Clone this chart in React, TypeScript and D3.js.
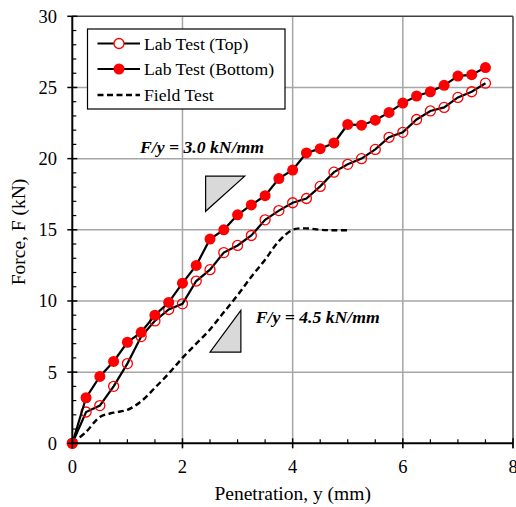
import React from "react";
import * as d3 from "d3";

const penetration = [0, 0.25, 0.5, 0.75, 1, 1.25, 1.5, 1.75, 2, 2.25, 2.5, 2.75, 3, 3.25, 3.5, 3.75, 4, 4.25, 4.5, 4.75, 5, 5.25, 5.5, 5.75, 6, 6.25, 6.5, 6.75, 7, 7.25, 7.5];
const labTop = [0, 2.2, 2.65, 4.0, 5.6, 7.5, 8.6, 9.4, 9.8, 11.4, 12.2, 13.4, 13.9, 14.6, 15.7, 16.35, 16.9, 17.2, 18.05, 19.05, 19.6, 20.0, 20.65, 21.5, 21.85, 22.75, 23.35, 23.6, 24.3, 24.7, 25.3];
const labBottom = [0, 3.2, 4.7, 5.75, 7.1, 7.8, 9.0, 9.9, 11.25, 12.5, 14.35, 15.0, 16.05, 16.75, 17.4, 18.6, 19.2, 20.4, 20.7, 21.1, 22.4, 22.35, 22.7, 23.25, 23.9, 24.4, 24.7, 25.15, 25.8, 25.9, 26.4];
const fieldX = [0, 0.25, 0.5, 0.75, 1, 1.25, 1.5, 1.75, 2, 2.25, 2.5, 2.75, 3, 3.25, 3.5, 3.75, 4, 4.25, 4.5, 4.75, 5];
const fieldY = [0, 0.8, 1.85, 2.15, 2.35, 2.95, 3.9, 4.9, 6.0, 7.0, 8.0, 9.2, 10.4, 11.7, 12.9, 14.2, 15.0, 15.1, 15.0, 14.97, 14.97];
const xTicks = [0, 2, 4, 6, 8];
const yTicks = [0, 5, 10, 15, 20, 25, 30];
const seriesNames = ["Lab Test (Top)", "Lab Test (Bottom)", "Field Test"];
// slope triangles in data units: [x1, x2, yLow, yHigh]
const triUpper = [2.42, 3.13, 16.3, 18.77];
const triLower = [2.5, 3.06, 6.41, 9.34];
const labelUpper = "F/y = 3.0 kN/mm";
const labelLower = "F/y = 4.5 kN/mm";

const W = 516, H = 507;
const FONT = "'Liberation Serif', 'Times New Roman', serif";

export default function App() {
  const x = d3.scaleLinear().domain([0, 8]).range([72.3, 513]);
  const y = d3.scaleLinear().domain([0, 30]).range([443.3, 16.3]);

  const lin = d3.line<[number, number]>().x(d => x(d[0])).y(d => y(d[1]));
  const smooth = d3.line<[number, number]>().x(d => x(d[0])).y(d => y(d[1])).curve(d3.curveCatmullRom.alpha(0.5));

  const topPts: [number, number][] = penetration.map((p, i) => [p, labTop[i]]);
  const botPts: [number, number][] = penetration.map((p, i) => [p, labBottom[i]]);
  const fieldPts: [number, number][] = fieldX.map((p, i) => [p, fieldY[i]]);

  const xMinor = d3.range(0, 8.01, 0.5).filter(v => v % 2 !== 0);
  const yMinor = d3.range(0, 30.01, 1).filter(v => v % 5 !== 0);

  const grid = "#a6a6a6";

  const upperTri = `M${x(triUpper[0])},${y(triUpper[3])}L${x(triUpper[1])},${y(triUpper[3])}L${x(triUpper[0])},${y(triUpper[2])}Z`;
  const lowerTri = `M${x(triLower[1])},${y(triLower[3])}L${x(triLower[1])},${y(triLower[2])}L${x(triLower[0])},${y(triLower[2])}Z`;

  const lx0 = 87.5, ly0 = 29, lw = 197.5, lh = 80;
  const rows = [43.5, 69, 95];

  return (
    <div style={{ position: "fixed", left: 0, top: 0 }}>
      <svg width={W} height={H} style={{ display: "block", background: "#fff" }} fontFamily={FONT}>
        {/* grid */}
        {xTicks.filter(v => v > 0 && v < 8).map(v => (
          <line key={"gx" + v} x1={x(v)} x2={x(v)} y1={y(30)} y2={y(0) + 5} stroke={grid} strokeWidth={1.5} />
        ))}
        {yTicks.filter(v => v > 0 && v < 30).map(v => (
          <line key={"gy" + v} x1={x(0)} x2={x(8)} y1={y(v)} y2={y(v)} stroke={grid} strokeWidth={1.5} />
        ))}
        {/* top/right border */}
        <line x1={x(0)} x2={x(8)} y1={y(30)} y2={y(30)} stroke="#404040" strokeWidth={1.5} />
        <line x1={x(8)} x2={x(8)} y1={y(30)} y2={y(0) + 5} stroke="#404040" strokeWidth={1.5} />

        {/* slope triangles */}
        <path d={upperTri} fill="#d9d9d9" stroke="#000" strokeWidth={1.2} />
        <path d={lowerTri} fill="#d9d9d9" stroke="#000" strokeWidth={1.2} />
        <text x={140} y={153} fontSize={17.7} fontWeight="bold" fontStyle="italic">{labelUpper}</text>
        <text x={255.7} y={323} fontSize={17.7} fontWeight="bold" fontStyle="italic">{labelLower}</text>

        {/* field test */}
        <path d={smooth(fieldPts) || ""} fill="none" stroke="#000" strokeWidth={2.4} strokeDasharray="6,3.5" />

        {/* lab top */}
        <path d={lin(topPts) || ""} fill="none" stroke="#000" strokeWidth={2.2} />
        {topPts.map((d, i) => (
          <circle key={"t" + i} cx={x(d[0])} cy={y(d[1])} r={5} fill="none" stroke="#ff0000" strokeWidth={1.3} />
        ))}
        {/* lab bottom */}
        <path d={lin(botPts) || ""} fill="none" stroke="#000" strokeWidth={2.2} />
        {botPts.map((d, i) => (
          <circle key={"b" + i} cx={x(d[0])} cy={y(d[1])} r={5.5} fill="#ff0000" />
        ))}

        {/* axes */}
        <line x1={x(0)} x2={x(0)} y1={y(30)} y2={y(0)} stroke="#000" strokeWidth={2} />
        <line x1={x(0)} x2={x(8)} y1={y(0)} y2={y(0)} stroke="#000" strokeWidth={2} />
        {yTicks.map(v => (
          <line key={"yt" + v} x1={x(0) - 5} x2={x(0) + 5} y1={y(v)} y2={y(v)} stroke="#000" strokeWidth={1.5} />
        ))}
        {yMinor.map(v => (
          <line key={"ym" + v} x1={x(0)} x2={x(0) + 4} y1={y(v)} y2={y(v)} stroke="#000" strokeWidth={1.2} />
        ))}
        {xTicks.map(v => (
          <line key={"xt" + v} x1={x(v)} x2={x(v)} y1={y(0) - 5} y2={y(0) + 5} stroke="#000" strokeWidth={1.5} />
        ))}
        {xMinor.map(v => (
          <line key={"xm" + v} x1={x(v)} x2={x(v)} y1={y(0) - 4} y2={y(0)} stroke="#000" strokeWidth={1.2} />
        ))}
        {yTicks.map(v => (
          <text key={"yl" + v} x={57} y={y(v)} dy="0.35em" textAnchor="end" fontSize={18.5}>{v}</text>
        ))}
        {xTicks.map(v => (
          <text key={"xl" + v} x={x(v)} y={473} textAnchor="middle" fontSize={18.5}>{v}</text>
        ))}
        <text x={292.7} y={500} textAnchor="middle" fontSize={19.5}>Penetration, y (mm)</text>
        <text transform={`translate(25,232) rotate(-90)`} textAnchor="middle" fontSize={19.5}>Force, F (kN)</text>

        {/* legend */}
        <rect x={lx0} y={ly0} width={lw} height={lh} fill="#fff" stroke="#000" strokeWidth={1.2} />
        <line x1={97.5} x2={140} y1={rows[0]} y2={rows[0]} stroke="#000" strokeWidth={2.2} />
        <circle cx={119} cy={rows[0]} r={5} fill="#fff" stroke="#ff0000" strokeWidth={1.3} />
        <line x1={97.5} x2={140} y1={rows[1]} y2={rows[1]} stroke="#000" strokeWidth={2.2} />
        <circle cx={119} cy={rows[1]} r={5.5} fill="#ff0000" />
        <line x1={97.5} x2={140} y1={rows[2]} y2={rows[2]} stroke="#000" strokeWidth={2.4} strokeDasharray="6,3.5" />
        {seriesNames.map((n, i) => (
          <text key={n} x={144} y={rows[i]} dy="0.35em" fontSize={17.7}>{n}</text>
        ))}
      </svg>
    </div>
  );
}
